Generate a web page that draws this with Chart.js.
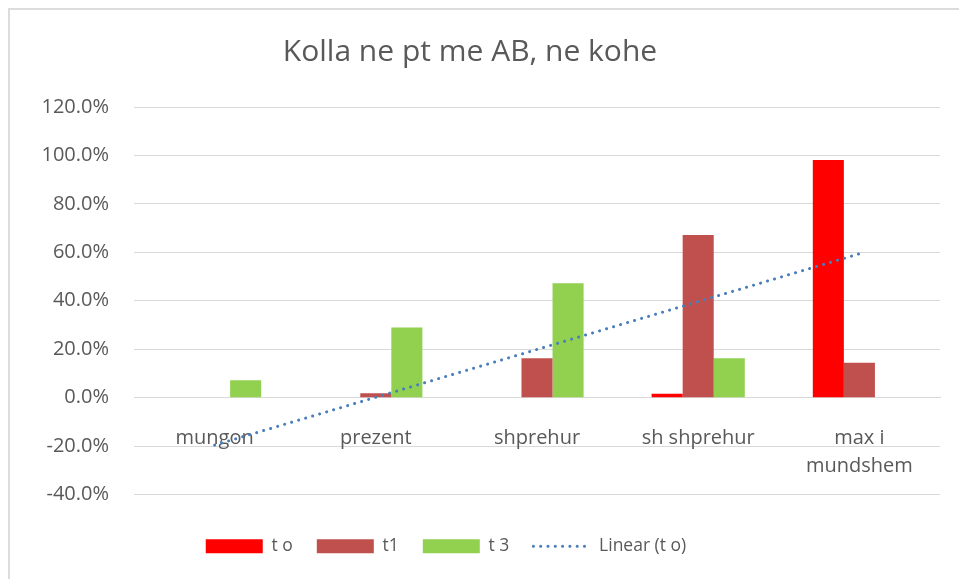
<!DOCTYPE html>
<html>
<head>
<meta charset="utf-8">
<script src="https://cdn.jsdelivr.net/npm/chart.js@4/dist/chart.umd.min.js"></script>
<style>
  html, body { margin: 0; padding: 0; background: #fff; }
  #wrap { position: relative; width: 959px; height: 579px; }
  #frame {
    position: absolute; left: 8px; top: 8px; right: -4px; bottom: -4px;
    border-left: 2px solid #dcdcdc; border-top: 2px solid #dcdcdc;
    pointer-events: none;
  }
</style>
</head>
<body>
<div id="wrap">
  <canvas id="chart" width="959" height="579"></canvas>
  <div id="frame"></div>
</div>
<script>
const categories = ['mungon', 'prezent', 'shprehur', 'sh shprehur', ['max i', 'mundshem']];
const tO = [0, 0, 0, 1.6, 98.1];
const t1 = [0, 1.8, 16.3, 67.2, 14.4];
const t3 = [7.2, 29.0, 47.2, 16.3, 0];
// trendline end points (first and last category)
const linearTO = [-19.6, null, null, null, 59.4];
const yTicks = { min: -40, max: 120, step: 20 };

const textColor = '#595959';
const gridColor = '#d9d9d9';
const fontFamily = '"Open Sans", "Liberation Sans", sans-serif';
const trendDash = [0.1, 7.2];

// Excel puts title and legend a little left of centre, nudge them the same way
const nudgeBoxes = {
  id: 'nudgeBoxes',
  afterLayout(chart) {
    chart.titleBlock.left -= 10;
    chart.titleBlock.right -= 10;
    chart.legend.left -= 34;
    chart.legend.right -= 34;
  },
};

const ctx = document.getElementById('chart').getContext('2d');

new Chart(ctx, {
  type: 'bar',
  data: {
    labels: categories,
    datasets: [
      { label: 't o', data: tO, backgroundColor: '#ff0000', order: 1 },
      { label: 't1', data: t1, backgroundColor: '#c0504d', order: 1 },
      { label: 't 3', data: t3, backgroundColor: '#92d050', order: 1 },
      {
        type: 'line',
        label: 'Linear (t o)',
        data: linearTO,
        spanGaps: true,
        borderColor: '#4a7ebb',
        backgroundColor: '#4a7ebb',
        borderWidth: 3,
        borderDash: trendDash,
        borderCapStyle: 'round',
        pointRadius: 0,
        pointHoverRadius: 0,
        order: 0,
      },
    ],
  },
  plugins: [nudgeBoxes],
  options: {
    responsive: false,
    animation: false,
    events: [],
    layout: { padding: { left: 20, right: 19, top: 0, bottom: 14 } },
    datasets: {
      bar: { categoryPercentage: 0.578, barPercentage: 1 },
    },
    scales: {
      x: {
        position: { y: 0 },
        grid: { display: false, drawTicks: false },
        border: { display: true, color: gridColor, width: 1 },
        ticks: {
          color: textColor,
          padding: 27,
          maxRotation: 0,
          font: { family: fontFamily, size: 20, lineHeight: 1.4 },
        },
      },
      y: {
        min: yTicks.min,
        max: yTicks.max,
        afterFit: (scale) => { scale.width = 114; },
        grid: { color: gridColor, lineWidth: 1, drawTicks: false },
        border: { display: false },
        ticks: {
          stepSize: yTicks.step,
          color: textColor,
          padding: 25,
          font: { family: fontFamily, size: 20 },
          callback: (v) => v.toFixed(1) + '%',
        },
      },
    },
    plugins: {
      tooltip: { enabled: false },
      title: {
        display: true,
        text: 'Kolla ne pt me AB, ne kohe',
        color: textColor,
        font: { family: fontFamily, size: 30, weight: 'normal', lineHeight: 1.2 },
        padding: { top: 34, bottom: 37 },
      },
      legend: {
        position: 'bottom',
        title: { display: true, text: ' ', font: { size: 1, lineHeight: 1 }, padding: { top: 0, bottom: 18 } },
        labels: {
          color: textColor,
          font: { family: fontFamily, size: 17.5 },
          usePointStyle: true,
          pointStyleWidth: 57,
          boxHeight: 14,
          padding: 24,
          sort: (a, b) => a.datasetIndex - b.datasetIndex,
          generateLabels: (chart) => {
            const items = Chart.defaults.plugins.legend.labels.generateLabels(chart);
            items.forEach((item) => {
              if (item.datasetIndex === 3) {
                item.pointStyle = 'line';
                item.lineDash = trendDash;
                item.lineCap = 'round';
                item.lineWidth = 3;
                item.strokeStyle = '#4a7ebb';
              } else {
                item.pointStyle = 'rect';
              }
            });
            return items;
          },
        },
      },
    },
  },
});
</script>
</body>
</html>
